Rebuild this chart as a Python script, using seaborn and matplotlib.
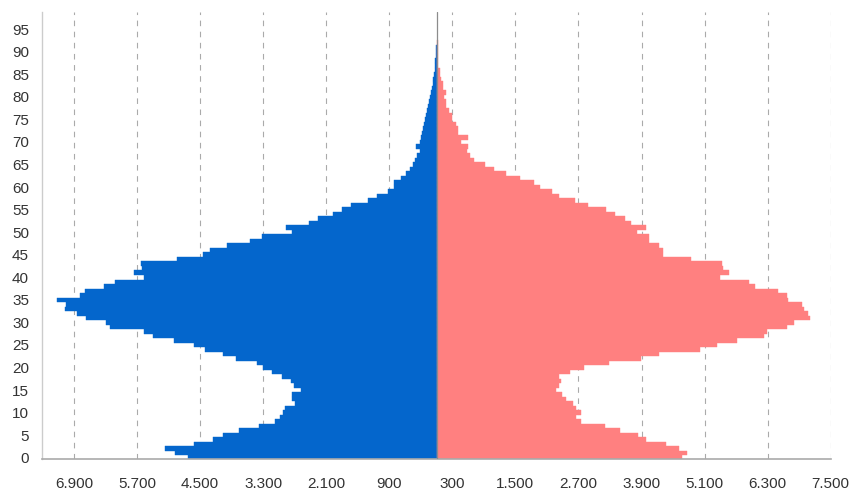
import numpy as np
import pandas as pd
import matplotlib
matplotlib.use("Agg")
import matplotlib.pyplot as plt
import seaborn as sns

# Population by single year of age (men drawn to the left, women to the right)
ages_men = list(range(0, 92))
men = [4723, 4970, 5160, 4609, 4248, 4057, 3753, 3373, 3068, 2973,
       2916, 2878, 2688, 2745, 2745, 2573, 2707, 2764, 2935, 3125,
       3296, 3411, 3810, 4057, 4400, 4609, 4989, 5388, 5559, 6206,
       6282, 6663, 6834, 7062, 7043, 7214, 6777, 6682, 6321, 6111,
       5559, 5749, 5597, 5616, 4932, 4438, 4305, 3981, 3544, 3315,
       2745, 2859, 2422, 2250, 1967, 1795, 1624, 1301, 1130, 919,
       805, 805, 671, 576, 500, 443, 405, 367, 310, 386,
       310, 291, 272, 253, 234, 215, 196, 177, 158, 139,
       120, 100, 82, 72, 63, 44, 34, 25, 25, 19,
       15, 15]

ages_women = list(range(0, 93))
women = [4673, 4768, 4616, 4369, 3988, 3836, 3494, 3209, 2752, 2657,
         2752, 2657, 2600, 2467, 2391, 2277, 2334, 2372, 2334, 2543,
         2809, 3285, 3893, 4236, 5016, 5339, 5720, 6233, 6290, 6670,
         6804, 7108, 7070, 6994, 6956, 6689, 6670, 6499, 6062, 5948,
         5396, 5567, 5453, 5434, 4844, 4312, 4312, 4236, 4046, 4046,
         3817, 3988, 3703, 3589, 3399, 3228, 2885, 2638, 2334, 2200,
         1972, 1858, 1592, 1326, 1096, 925, 716, 640, 583, 602,
         469, 602, 413, 413, 374, 298, 298, 241, 184, 184,
         146, 184, 127, 127, 89, 70, 70, 32, 32, 32,
         32, 32, 32]

x_ticks = [-6900, -5700, -4500, -3300, -2100, -900, 300, 1500, 2700, 3900, 5100, 6300, 7500]
y_ticks = list(range(0, 96, 5))

df_men = pd.DataFrame({"age": ages_men, "pop": [-v for v in men]})
df_women = pd.DataFrame({"age": ages_women, "pop": women})

sns.set_style("white")
plt.rcParams["font.family"] = ["Liberation Sans", "DejaVu Sans"]

fig = plt.figure(figsize=(8.53, 4.93), dpi=100)
ax = fig.add_axes([0.0496, 0.0696, 0.9243, 0.906])

blue = "#0466cc"
pink = "#ff8080"
sns.barplot(data=df_men, x="pop", y="age", orient="y", native_scale=True, width=1,
            color=blue, saturation=1, errorbar=None, edgecolor=blue, linewidth=0.3, ax=ax)
sns.barplot(data=df_women, x="pop", y="age", orient="y", native_scale=True, width=1,
            color=pink, saturation=1, errorbar=None, edgecolor=pink, linewidth=0.3, ax=ax)

ax.axvline(0, color="#8c8c8c", lw=0.9, zorder=4)

ax.set_xlim(-7500, 7500)
ax.set_ylim(-0.22, 98.8)
ax.set_xticks(x_ticks)
ax.set_xticklabels([f"{abs(v):,}".replace(",", ".") for v in x_ticks])
ax.set_yticks(y_ticks)
ax.set_yticklabels([str(v) for v in y_ticks])
ax.set_xlabel("")
ax.set_ylabel("")

ax.tick_params(axis="x", length=3, width=1, color="#aaaaaa", pad=10, labelsize=11, labelcolor="#333333")
ax.tick_params(axis="y", length=0, pad=9.5, labelsize=11, labelcolor="#333333")

ax.xaxis.grid(True, color="#aaaaaa", linestyle=(0, (5, 5)), linewidth=0.8)
ax.yaxis.grid(False)
ax.set_axisbelow(True)

sns.despine(ax=ax, top=True, right=True)
ax.spines["left"].set_color("#cccccc")
ax.spines["left"].set_linewidth(1)
ax.spines["bottom"].set_color("#aaaaaa")
ax.spines["bottom"].set_linewidth(1.2)

fig.savefig("out.png", dpi=100)
